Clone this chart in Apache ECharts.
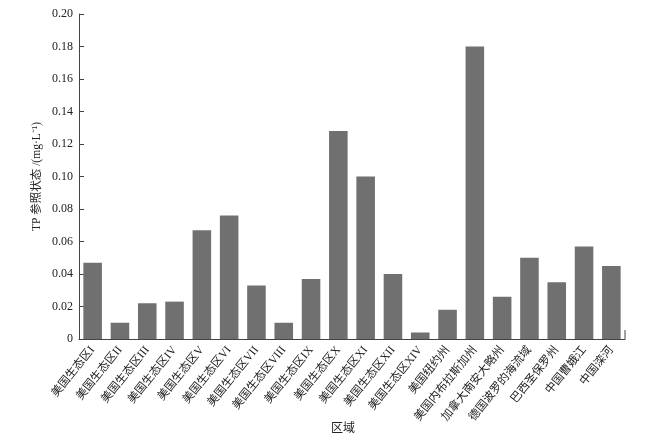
<!DOCTYPE html>
<html><head><meta charset="utf-8">
<script src="https://cdn.jsdelivr.net/npm/echarts@6/dist/echarts.min.js"></script>
<style>html,body{margin:0;padding:0;background:#fff}#c{width:652px;height:442px}</style>
</head><body><div id="c"></div>
<script>
var categories = ['美国生态区I','美国生态区II','美国生态区III','美国生态区IV','美国生态区V','美国生态区VI','美国生态区VII','美国生态区VIII','美国生态区IX','美国生态区X','美国生态区XI','美国生态区XII','美国生态区XIV','美国纽约州','美国内布拉斯加州','加拿大南安大略州','德国波罗的海流域','巴西圣保罗州','中国曹娥江','中国滦河'];
var tpValues = [0.047,0.010,0.022,0.023,0.067,0.076,0.033,0.010,0.037,0.128,0.100,0.040,0.004,0.018,0.180,0.026,0.050,0.035,0.057,0.045];
var yTicks = {min:0, max:0.20, interval:0.02};
var yName = 'TP 参照状态 /(mg·L⁻¹)';
var xName = '区域';

var FONT = '"Liberation Serif", "Noto Sans CJK SC", serif';
var chart = echarts.init(document.getElementById('c'), null, {renderer:'canvas'});
var grid = {left:79, right:27, top:14, bottom:103, containLabel:false, outerBoundsMode:'none'};
chart.setOption({
  animation:false,
  backgroundColor:'#fff',
  grid: grid,
  xAxis: {
    type:'category', data:categories,
    name:xName, nameLocation:'middle', nameGap:84, nameMoveOverlap:false,
    nameTextStyle:{fontFamily:FONT, fontSize:12, color:'#222', padding:[0,18,0,0]},
    axisLine:{lineStyle:{color:'#444', width:1}},
    axisTick:{show:false},
    axisLabel:{rotate:51, interval:0, fontFamily:FONT, fontSize:11.5, color:'#222', margin:9}
  },
  yAxis: {
    type:'value', min:yTicks.min, max:yTicks.max, interval:yTicks.interval,
    name:yName, nameLocation:'middle', nameGap:36, nameMoveOverlap:false,
    nameTextStyle:{fontFamily:FONT, fontSize:11.5, color:'#222'},
    axisLine:{show:true, lineStyle:{color:'#444', width:1}},
    axisTick:{show:true, inside:true, length:5, lineStyle:{color:'#444'}},
    axisLabel:{fontFamily:FONT, fontSize:12, color:'#222', margin:6,
      formatter:function(v){return v===0?'0':v.toFixed(2);}},
    splitLine:{show:false}
  },
  series:[{
    type:'bar', data:tpValues, barCategoryGap:'32%',
    itemStyle:{color:'#707070'}
  }],
  graphic:[{
    type:'line', z:10,
    shape:{x1:652-grid.right, y1:442-grid.bottom-9, x2:652-grid.right, y2:442-grid.bottom},
    style:{stroke:'#444', lineWidth:1}
  }]
});
</script></body></html>
